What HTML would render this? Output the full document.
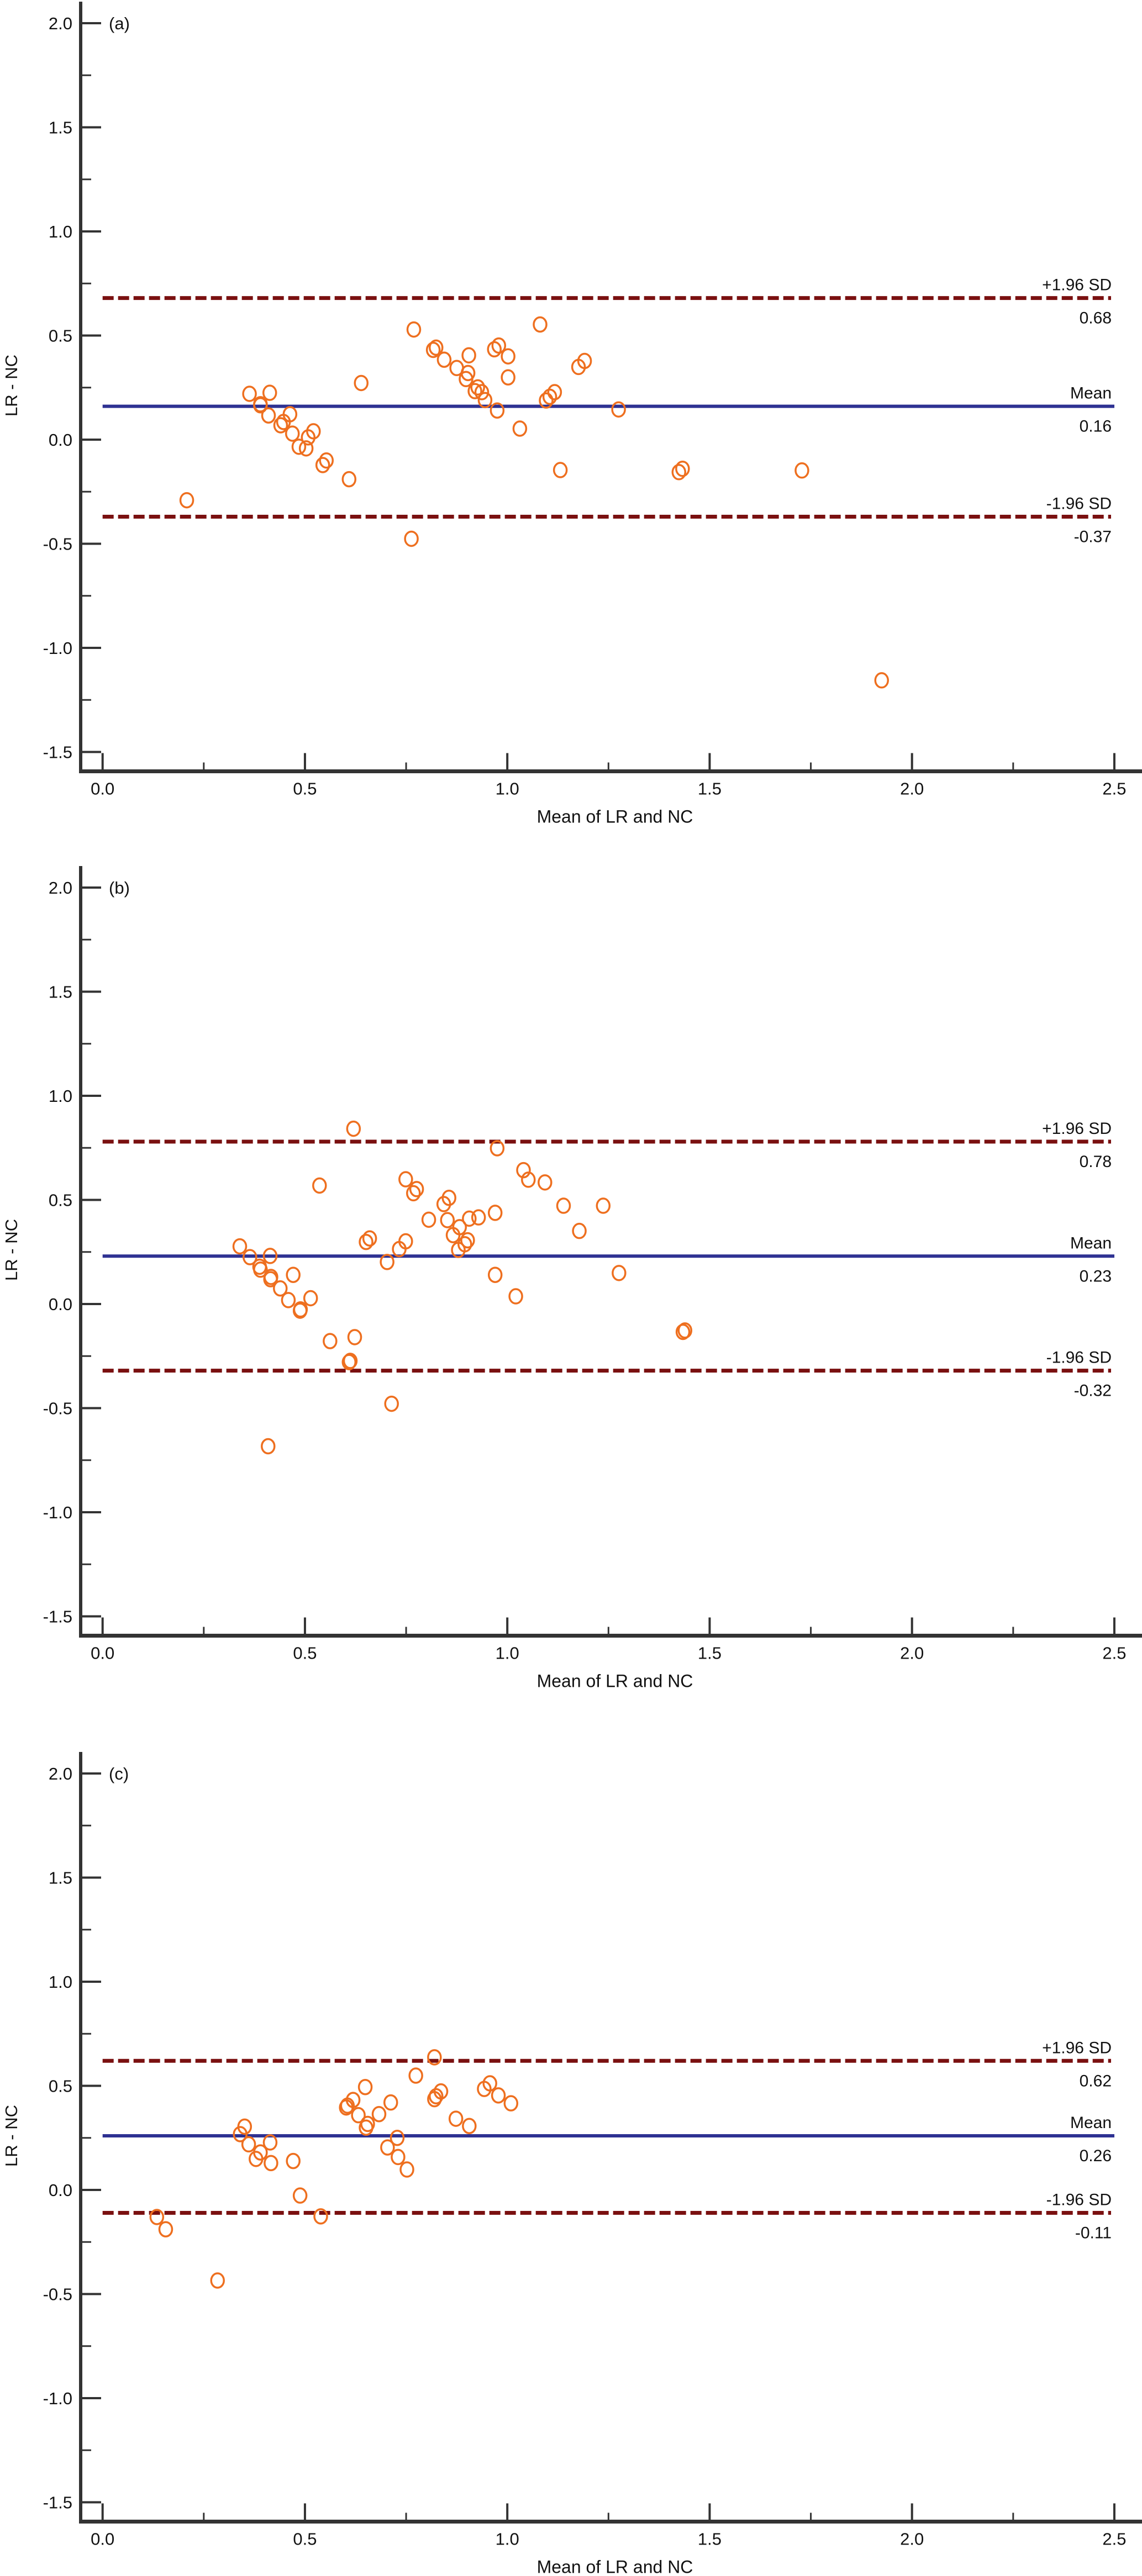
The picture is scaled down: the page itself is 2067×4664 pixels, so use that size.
<!DOCTYPE html>
<html><head><meta charset="utf-8"><title>Bland-Altman plots</title>
<style>
html,body{margin:0;padding:0;background:#fff;}
svg{display:block;}
text{font-family:"Liberation Sans",Arial,sans-serif;fill:#111;}
</style></head>
<body>
<svg id="chart" width="2067" height="4664" viewBox="0 0 2067 4664" xmlns="http://www.w3.org/2000/svg"></svg>
<script>
// ---- data ----
const panelLabels = ["(a)", "(b)", "(c)"];
const yTicks = [2.0, 1.5, 1.0, 0.5, 0.0, -0.5, -1.0, -1.5];
const xTicks = [0.0, 0.5, 1.0, 1.5, 2.0, 2.5];
const upperLimits = [0.68, 0.78, 0.62];
const meanDiffs = [0.16, 0.23, 0.26];
const lowerLimits = [-0.37, -0.32, -0.11];

const aX = [0.208,0.363,0.39,0.39,0.413,0.41,0.44,0.447,0.463,0.469,0.485,0.503,0.508,0.521,0.544,0.553,0.609,0.639,0.763,0.769,0.817,0.824,0.844,0.875,0.898,0.903,0.905,0.92,0.927,0.937,0.945,0.968,0.979,0.975,1.002,1.002,1.031,1.081,1.096,1.105,1.117,1.131,1.176,1.191,1.275,1.424,1.433,1.728,1.925];
const aY = [-0.291,0.22,0.17,0.165,0.225,0.116,0.069,0.085,0.122,0.029,-0.034,-0.042,0.011,0.04,-0.122,-0.1,-0.19,0.272,-0.476,0.529,0.431,0.442,0.384,0.344,0.291,0.32,0.405,0.233,0.251,0.228,0.19,0.434,0.452,0.14,0.4,0.299,0.053,0.553,0.188,0.206,0.228,-0.146,0.349,0.378,0.145,-0.156,-0.14,-0.148,-1.156];

const bX = [0.62,0.975,0.536,0.749,0.776,0.768,1.04,1.052,1.093,0.856,0.843,1.139,1.237,0.97,0.806,0.852,0.906,0.929,0.882,1.178,0.866,0.651,0.66,0.749,0.733,0.902,0.895,0.879,0.339,0.364,0.414,0.703,0.388,0.39,0.416,0.415,0.471,0.97,1.276,0.439,0.459,0.514,0.489,0.488,1.021,0.562,0.623,1.434,1.439,0.609,0.612,0.714,0.409];
const bY = [0.842,0.748,0.569,0.599,0.552,0.532,0.643,0.597,0.584,0.51,0.48,0.472,0.472,0.438,0.405,0.403,0.41,0.416,0.369,0.351,0.331,0.298,0.315,0.301,0.264,0.306,0.287,0.26,0.277,0.225,0.231,0.202,0.179,0.165,0.13,0.119,0.14,0.14,0.149,0.075,0.019,0.028,-0.026,-0.032,0.037,-0.178,-0.159,-0.134,-0.127,-0.279,-0.273,-0.479,-0.683];

const cX = [0.82,0.774,0.649,0.957,0.943,0.978,1.009,0.836,0.824,0.82,0.619,0.605,0.602,0.712,0.632,0.683,0.655,0.651,0.873,0.906,0.351,0.34,0.728,0.361,0.414,0.39,0.379,0.416,0.704,0.73,0.752,0.471,0.488,0.539,0.134,0.156,0.284];
const cY = [0.637,0.549,0.494,0.512,0.485,0.454,0.416,0.473,0.45,0.436,0.432,0.405,0.396,0.42,0.359,0.364,0.317,0.299,0.342,0.307,0.304,0.268,0.25,0.219,0.228,0.18,0.149,0.129,0.204,0.158,0.098,0.139,-0.027,-0.127,-0.13,-0.189,-0.435];

const seriesX = [aX, bX, cX];
const seriesY = [aY, bY, cY];

// ---- layout ----
const svg = document.getElementById('chart');
const NS = 'http://www.w3.org/2000/svg';
const panelTop = [42, 1607, 3211]; // pixel y of the 2.0 tick
const X0 = 185.7, XPX = 732.5, YPX = 377;
function mk(tag, attrs, parent){ const e=document.createElementNS(NS,tag); for(const k in attrs) e.setAttribute(k, attrs[k]); (parent||svg).appendChild(e); return e; }
function xs(v){ return X0 + v*XPX; }

for (let p=0; p<3; p++){
  const top = panelTop[p];
  const ys = v => top + (2.0 - v)*YPX;
  const g = mk('g', {});
  
  
  const axisY = ys(-1.5) + 35;
  // axes
  const ya = mk('line', {x1:146, y1:top-39, x2:146, y2:axisY+3, stroke:'#333', 'stroke-width':6}, g);
  
  
  const xa = mk('line', {x1:143, y1:axisY, x2:2067, y2:axisY, stroke:'#333', 'stroke-width':7}, g);
  
  
  // y ticks (major + minor)
  for (let i=0;i<yTicks.length;i++){
    const v = yTicks[i];
    const t = mk('line', {x1:149, y1:ys(v), x2:183, y2:ys(v), stroke:'#333', 'stroke-width':4}, g);
    
    
    const lb = mk('text', {x:131, y:ys(v)+11, 'text-anchor':'end', 'font-size':31}, g);
    lb.textContent = v.toFixed(1);
    
    
    if (i < yTicks.length-1){
      const m = mk('line', {x1:149, y1:ys(v-0.25), x2:165, y2:ys(v-0.25), stroke:'#333', 'stroke-width':3}, g);
      
      
    }
  }
  // x ticks
  for (let i=0;i<xTicks.length;i++){
    const v = xTicks[i];
    const t = mk('line', {x1:xs(v), y1:axisY-33, x2:xs(v), y2:axisY, stroke:'#333', 'stroke-width':4}, g);
    
    
    const lb = mk('text', {x:xs(v), y:axisY+42, 'text-anchor':'middle', 'font-size':31}, g);
    lb.textContent = v.toFixed(1);
    
    
    if (i < xTicks.length-1){
      const m = mk('line', {x1:xs(v+0.25), y1:axisY-16, x2:xs(v+0.25), y2:axisY, stroke:'#333', 'stroke-width':3}, g);
      
      
    }
  }
  // titles
  const xt = mk('text', {x:1113, y:axisY+93, 'text-anchor':'middle', 'font-size':32}, g);
  xt.textContent = 'Mean of LR and NC';
  
  
  const cyT = ys(0.26);
  const yt = mk('text', {x:0, y:0, 'text-anchor':'middle', 'font-size':31, transform:'translate(31,'+cyT+') rotate(-90)'}, g);
  yt.textContent = 'LR - NC';
  
  
  const pl = mk('text', {x:197, y:top+11, 'font-size':31}, g);
  pl.textContent = panelLabels[p];
  
  
  // reference lines
  const refs = [
    {v:upperLimits[p], name:'upper-limit-line', lab:'+1.96 SD', dash:true},
    {v:meanDiffs[p], name:'mean-line', lab:'Mean', dash:false},
    {v:lowerLimits[p], name:'lower-limit-line', lab:'-1.96 SD', dash:true}
  ];
  for (const r of refs){
    const ln = mk('line', {x1:xs(0), y1:ys(r.v), x2:r.dash?2011:2017, y2:ys(r.v),
      stroke: r.dash ? '#7a1010' : '#2e3192', 'stroke-width': r.dash ? 7 : 6,
      'stroke-dasharray': r.dash ? '20 8' : 'none'}, g);
    
    
    const t1 = mk('text', {x:2012, y:ys(r.v)-14, 'text-anchor':'end', 'font-size':30}, g);
    t1.textContent = r.lab;
    
    
    const t2 = mk('text', {x:2012, y:ys(r.v)+46, 'text-anchor':'end', 'font-size':30}, g);
    t2.textContent = r.v.toFixed(2);
    
    
  }
  // points
  const X = seriesX[p], Y = seriesY[p];
  for (let i=0;i<X.length;i++){
    const c = mk('ellipse', {cx:xs(X[i]), cy:ys(Y[i]), rx:11.5, ry:13, fill:'none', stroke:'#ee6f1f', 'stroke-width':3.5}, g);
    
    
  }
}
</script>
</body></html>
